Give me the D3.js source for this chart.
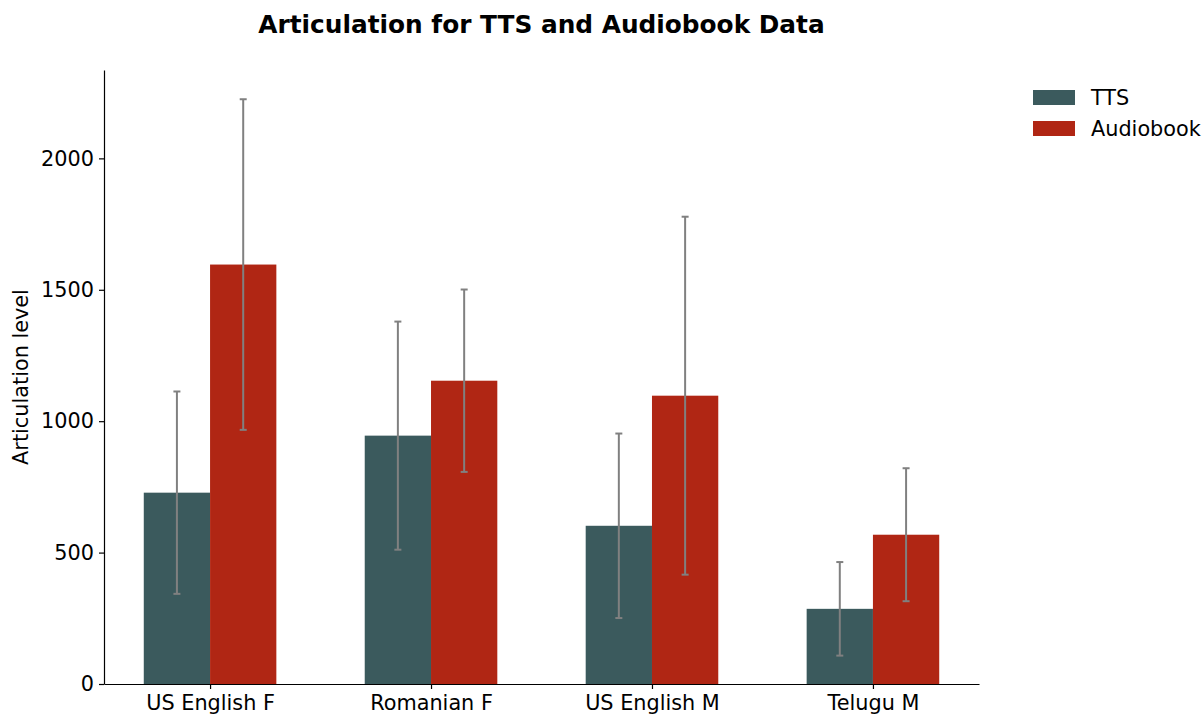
<!DOCTYPE html>
<html>
<head>
<meta charset="utf-8">
<script src="https://cdn.jsdelivr.net/npm/d3@7"></script>
<style>
  body { margin: 0; background: #fff; }
  text { font-family: "DejaVu Sans", sans-serif; }
</style>
</head>
<body>
<div id="chart"></div>
<script>
// data
var categories = ["US English F", "Romanian F", "US English M", "Telugu M"];
var seriesNames = ["TTS", "Audiobook"];
var ttsValues = [728, 945, 602, 286];
var ttsErrors = [385, 434, 351, 178];
var audioValues = [1596, 1154, 1097, 568];
var audioErrors = [629, 347, 681, 253];
var yTicks = [0, 500, 1000, 1500, 2000];

var colors = ["#3b5a5d", "#b02614"];

function drawChart() {
  var W = 1203, H = 715;
  var mLeft = 104, mRight = 979, mTop = 70, mBottom = 684;
  var barW = 0.3;
  var fs = "20.8px";

  var svg = d3.select("#chart").append("svg")
              .attr("width", W)
              .attr("height", H);

  var series = [
    { name: seriesNames[0], values: ttsValues, errors: ttsErrors, off: -barW, color: colors[0] },
    { name: seriesNames[1], values: audioValues, errors: audioErrors, off: 0, color: colors[1] }
  ];

  // matplotlib style 5% margins
  var xmin = -barW, xmax = categories.length - 1 + barW;
  var xpad = (xmax - xmin) * 0.05;
  var x = d3.scaleLinear().domain([xmin - xpad, xmax + xpad]).range([mLeft, mRight]);

  var ymaxData = d3.max(series, function(s) {
    return d3.max(s.values, function(v, i) { return v + s.errors[i]; });
  });
  var y = d3.scaleLinear().domain([0, ymaxData * 1.05]).range([mBottom, mTop]);

  // bars
  series.forEach(function(s) {
    svg.append("g").selectAll("rect")
       .data(s.values)
       .enter()
       .append("rect")
       .attr("x", function(d, i) { return x(i + s.off); })
       .attr("width", function() { return x(barW) - x(0); })
       .attr("y", function(d) { return y(d); })
       .attr("height", function(d) { return y(0) - y(d); })
       .attr("fill", s.color);
  });

  // error bars
  series.forEach(function(s) {
    var g = svg.append("g").attr("stroke", "#808080").attr("stroke-width", 2);
    s.values.forEach(function(v, i) {
      var cx = x(i + s.off + barW / 2);
      var lo = y(v - s.errors[i]), hi = y(v + s.errors[i]);
      g.append("line").attr("x1", cx).attr("x2", cx).attr("y1", lo).attr("y2", hi);
      g.append("line").attr("x1", cx - 3.5).attr("x2", cx + 3.5).attr("y1", lo).attr("y2", lo);
      g.append("line").attr("x1", cx - 3.5).attr("x2", cx + 3.5).attr("y1", hi).attr("y2", hi);
    });
  });

  // axes
  var yAxis = svg.append("g")
                 .attr("transform", "translate(" + mLeft + ",0)")
                 .call(d3.axisLeft(y).tickValues(yTicks).tickFormat(d3.format("d"))
                         .tickSize(5).tickPadding(5).tickSizeOuter(0));

  var xAxis = svg.append("g")
                 .attr("transform", "translate(0," + mBottom + ")")
                 .call(d3.axisBottom(x).tickValues(d3.range(categories.length))
                         .tickFormat(function(d) { return categories[d]; })
                         .tickSize(5).tickPadding(6).tickSizeOuter(0));

  [xAxis, yAxis].forEach(function(a) {
    a.selectAll("text").style("font-size", fs).attr("fill", "#000");
    a.selectAll("line").attr("stroke", "#000").attr("stroke-width", 1.2);
    a.select(".domain").attr("stroke", "#000").attr("stroke-width", 1.2);
  });

  // title and axis label
  svg.append("text")
     .attr("x", (mLeft + mRight) / 2)
     .attr("y", 33)
     .attr("text-anchor", "middle")
     .style("font-size", "24.8px")
     .style("font-weight", "bold")
     .text("Articulation for TTS and Audiobook Data");

  svg.append("text")
     .attr("transform", "translate(28," + ((mTop + mBottom) / 2) + ")rotate(-90)")
     .attr("text-anchor", "middle")
     .style("font-size", fs)
     .text("Articulation level");

  // legend
  var legend = svg.append("g").attr("transform", "translate(1033,90)");
  series.forEach(function(s, i) {
    var row = legend.append("g").attr("transform", "translate(0," + (i * 31) + ")");
    row.append("rect").attr("width", 42).attr("height", 15).attr("fill", s.color);
    row.append("text").attr("x", 58).attr("y", 15).style("font-size", fs).text(s.name);
  });
}

drawChart();
</script>
</body>
</html>
